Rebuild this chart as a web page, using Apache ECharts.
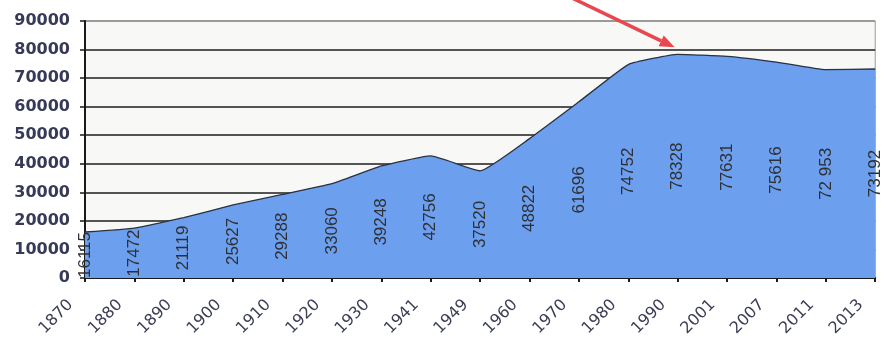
<!DOCTYPE html>
<html>
<head>
<meta charset="utf-8">
<script src="https://cdn.jsdelivr.net/npm/echarts@6/dist/echarts.min.js"></script>
<style>
  html, body { margin: 0; padding: 0; background: #ffffff; }
  #chart { width: 883px; height: 339px; }
</style>
</head>
<body>
<div id="chart"></div>
<script>
// Population by census year
const years = ['1870', '1880', '1890', '1900', '1910', '1920', '1930', '1941', '1949',
               '1960', '1970', '1980', '1990', '2001', '2007', '2011', '2013'];
const population = [16115, 17472, 21119, 25627, 29288, 33060, 39248, 42756, 37520,
                    48822, 61696, 74752, 78328, 77631, 75616, 72953, 73192];
const labelText = ['16115', '17472', '21119', '25627', '29288', '33060', '39248', '42756', '37520',
                   '48822', '61696', '74752', '78328', '77631', '75616', '72 953', '73192'];
const yTicks = [0, 10000, 20000, 30000, 40000, 50000, 60000, 70000, 80000, 90000];
const peakYear = '1990';

const chart = echarts.init(document.getElementById('chart'), null, { renderer: 'canvas' });

const gridColors = yTicks.map((v, i) => (i === yTicks.length - 1 ? '#8a8a8a' : '#1e1e1e'));

chart.setOption({
  animation: false,
  backgroundColor: '#ffffff',
  grid: {
    left: 85, right: 5, top: 21, bottom: 59,
    show: true,
    backgroundColor: '#f8f8f6',
    borderColor: '#9a9a9a',
    borderWidth: 1
  },
  xAxis: {
    type: 'category',
    data: years,
    boundaryGap: false,
    axisLine: { lineStyle: { color: '#1a1a1a', width: 2 } },
    axisTick: { show: true, alignWithLabel: true, length: 4, lineStyle: { color: '#1a1a1a', width: 2 } },
    axisLabel: {
      rotate: 45,
      interval: 0,
      margin: 10,
      fontFamily: 'DejaVu Sans',
      fontSize: 16,
      color: '#3b3e55',
      // two figure spaces after each year set the label back from its tick
      formatter: v => v + '\u2007\u2007'
    },
    splitLine: { show: false }
  },
  yAxis: {
    type: 'value',
    min: yTicks[0],
    max: yTicks[yTicks.length - 1],
    interval: 10000,
    axisLine: { show: true, lineStyle: { color: '#1a1a1a', width: 2 } },
    axisTick: { show: true, length: 5, lineStyle: { color: '#1a1a1a', width: 1.5 } },
    axisLabel: {
      margin: 15,
      fontFamily: 'DejaVu Sans',
      fontWeight: 'bold',
      fontSize: 16,
      color: '#363a58',
      formatter: v => String(v)
    },
    splitLine: { show: true, lineStyle: { color: gridColors, width: 1.6 } }
  },
  series: [
    {
      type: 'line',
      data: population,
      symbol: 'none',
      smooth: 0.12,
      lineStyle: { color: '#2a3140', width: 1.3 },
      areaStyle: { color: '#6c9fee', opacity: 1 },
      z: 2
    },
    {
      // invisible columns carry the value labels at mid-height of the area
      type: 'bar',
      data: population,
      barWidth: 16,
      itemStyle: { color: 'rgba(0,0,0,0)' },
      label: {
        show: true,
        position: 'inside',
        rotate: 90,
        fontFamily: 'Liberation Sans',
        fontSize: 17,
        color: '#2e3036',
        formatter: p => labelText[p.dataIndex]
      },
      z: 3
    }
  ]
});

// Red arrow pointing at the 1990 peak
function drawArrow() {
  const idx = years.indexOf(peakYear);
  const peak = chart.convertToPixel({ seriesIndex: 0 }, [idx, population[idx]]);
  const tip = [peak[0] - 3, peak[1] - 7];
  const start = [tip[0] - 104, tip[1] - 50];
  const ang = Math.atan2(tip[1] - start[1], tip[0] - start[0]);
  const headLen = 15, headHalf = 6;
  const base = [tip[0] - headLen * Math.cos(ang), tip[1] - headLen * Math.sin(ang)];
  const nx = -Math.sin(ang), ny = Math.cos(ang);
  chart.setOption({
    graphic: [
      {
        type: 'line',
        shape: { x1: start[0], y1: start[1], x2: base[0], y2: base[1] },
        style: { stroke: '#e8474f', lineWidth: 3.5 },
        z: 100
      },
      {
        type: 'polygon',
        shape: {
          points: [
            tip,
            [base[0] + nx * headHalf, base[1] + ny * headHalf],
            [base[0] - nx * headHalf, base[1] - ny * headHalf]
          ]
        },
        style: { fill: '#e8474f' },
        z: 100
      }
    ]
  });
}
drawArrow();
</script>
</body>
</html>
